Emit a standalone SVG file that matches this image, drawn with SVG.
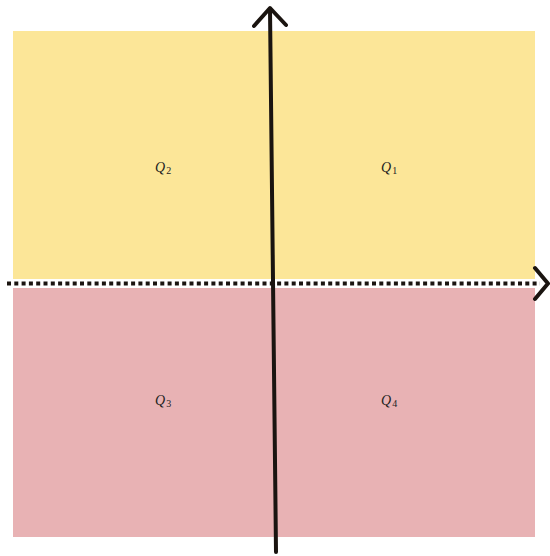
<svg xmlns="http://www.w3.org/2000/svg" width="550" height="556" viewBox="0 0 550 556">
<style>
.lbl{font-family:"Liberation Serif","DejaVu Serif",serif;font-size:14px;fill:#222;}
.q{font-style:italic;}
.sub{font-size:10px;}
.axis{stroke:#1a1410;stroke-width:4;fill:none;stroke-linecap:round;stroke-linejoin:round;}
</style>
<rect width="550" height="556" fill="#ffffff"/>
<g id="quadrants">
<rect id="q12" x="13" y="31" width="522" height="248" fill="#fce698"/>
<rect id="q34" x="13" y="288" width="522" height="249" fill="#e8b2b4"/>
</g>
<g id="labels">
<g id="Q1"><text class="lbl" x="381" y="172"><tspan class="q">Q</tspan><tspan class="sub" dx="1" dy="2">1</tspan></text></g>
<g id="Q2"><text class="lbl" x="155" y="172"><tspan class="q">Q</tspan><tspan class="sub" dx="1" dy="2">2</tspan></text></g>
<g id="Q3"><text class="lbl" x="155" y="405"><tspan class="q">Q</tspan><tspan class="sub" dx="1" dy="2">3</tspan></text></g>
<g id="Q4"><text class="lbl" x="381" y="405"><tspan class="q">Q</tspan><tspan class="sub" dx="1" dy="2">4</tspan></text></g>
</g>
<g id="connectors">
<line x1="7" y1="283.5" x2="540" y2="283.5" stroke="#1a1410" stroke-width="4" stroke-dasharray="4 3.3"/>
<polyline class="axis" points="535,268 548,283.5 535,299"/>
<line class="axis" x1="276" y1="552" x2="270" y2="9"/>
<polyline class="axis" points="254,26 270,8 286,25"/>
</g>
</svg>
